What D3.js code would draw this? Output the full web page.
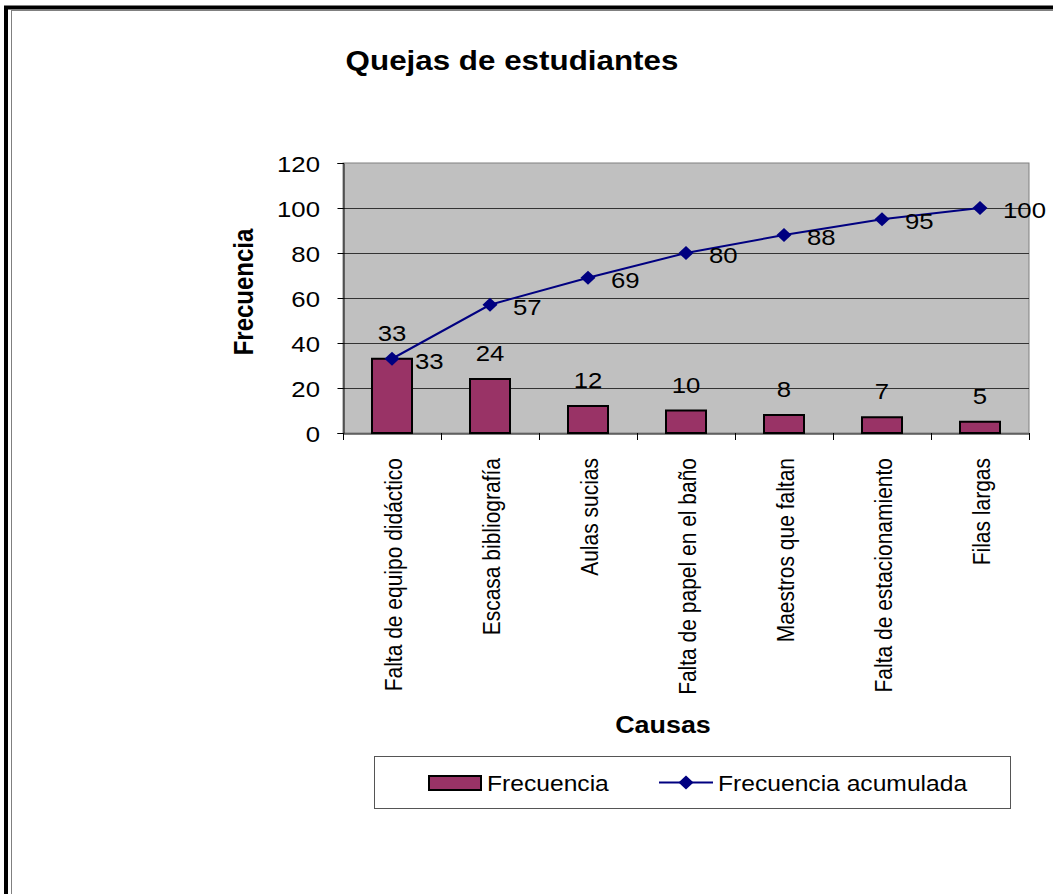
<!DOCTYPE html>
<html>
<head>
<meta charset="utf-8">
<script src="https://cdn.jsdelivr.net/npm/d3@7"></script>
<style>
  html, body { margin: 0; padding: 0; background: #fff; }
  svg { display: block; }
  text { font-family: "Liberation Sans", Arial, sans-serif; fill: #000; }
</style>
</head>
<body>
<svg id="chart" width="1053" height="894"></svg>
<script>
const categories = ["Falta de equipo didáctico", "Escasa bibliografía", "Aulas sucias",
  "Falta de papel en el baño", "Maestros que faltan", "Falta de estacionamiento", "Filas largas"];
const frecuencia = [33, 24, 12, 10, 8, 7, 5];
const acumulada = [33, 57, 69, 80, 88, 95, 100];
const yTicks = [0, 20, 40, 60, 80, 100, 120];
const titleText = "Quejas de estudiantes";
const yTitle = "Frecuencia";
const xTitle = "Causas";
const seriesNames = ["Frecuencia", "Frecuencia acumulada"];

(function () {
const SX = 1.12;
const svg = d3.select("#chart");

// outer frame
svg.append("rect").attr("x", 6).attr("y", 7.5).attr("width", 1200).attr("height", 1000)
  .attr("fill", "none").attr("stroke", "#000").attr("stroke-width", 4);
svg.append("rect").attr("x", 11.5).attr("y", 10.5).attr("width", 1200).attr("height", 1000)
  .attr("fill", "none").attr("stroke", "#808080").attr("stroke-width", 1);

function txt(s, x, y, o = {}) {
  const rot = !!o.rot;
  return svg.append("text")
    .attr("transform", `translate(${x},${y})` + (rot ? " rotate(-90)" : "") + ` scale(${rot ? 1 : SX},${rot ? SX : 1})`)
    .attr("text-anchor", o.anchor || "start")
    .attr("font-size", o.size || 22)
    .attr("font-weight", o.bold ? "bold" : "normal")
    .text(s);
}

const pLeft = 343, pRight = 1029, pTop = 163, pBottom = 433;
const x = d3.scaleBand().domain(categories).range([pLeft, pRight]);
const y = d3.scaleLinear().domain([0, 120]).range([pBottom, pTop]);
const cx = d => x(d) + x.bandwidth() / 2;
const barW = 40;

// plot background
svg.append("rect").attr("x", pLeft).attr("y", pTop).attr("width", pRight - pLeft).attr("height", pBottom - pTop)
  .attr("fill", "#C0C0C0").attr("stroke", "#808080").attr("stroke-width", 1);

// gridlines
svg.append("g").selectAll("line").data(yTicks.filter(t => t > 0 && t < 120)).join("line")
  .attr("x1", pLeft).attr("x2", pRight).attr("y1", d => y(d) + 0.5).attr("y2", d => y(d) + 0.5)
  .attr("stroke", "#333").attr("stroke-width", 1);

// y axis
const yAxis = svg.append("g").attr("transform", `translate(${pLeft + 0.5},0)`)
  .call(d3.axisLeft(y).tickValues(yTicks).tickSize(6).tickFormat(""));
yAxis.select(".domain").attr("stroke", "#000");
yAxis.selectAll(".tick line").attr("stroke", "#000");
yTicks.forEach(t => txt(String(t), 320, y(t) + 9, { anchor: "end", size: 23 }));

// x axis
const xAxis = svg.append("g").attr("transform", `translate(0,${pBottom + 0.5})`)
  .call(d3.axisBottom(x).tickSize(0).tickFormat(""));
xAxis.select(".domain").attr("stroke", "#000");
const bounds = categories.map(c => x(c)).concat([pRight]);
svg.append("g").selectAll("line").data(bounds).join("line")
  .attr("x1", d => d + 0.5).attr("x2", d => d + 0.5).attr("y1", pBottom).attr("y2", pBottom + 7)
  .attr("stroke", "#000").attr("stroke-width", 1);

// bars
svg.append("g").selectAll("rect").data(frecuencia).join("rect")
  .attr("x", (d, i) => cx(categories[i]) - barW / 2)
  .attr("y", d => y(d))
  .attr("width", barW)
  .attr("height", d => pBottom - y(d))
  .attr("fill", "#993366").attr("stroke", "#000").attr("stroke-width", 2);

// bar labels
frecuencia.forEach((v, i) => txt(String(v), cx(categories[i]), y(v) - 18, { anchor: "middle", size: 23 }));

// cumulative line
const line = d3.line().x((d, i) => cx(categories[i])).y(d => y(d));
svg.append("path").datum(acumulada).attr("d", line)
  .attr("fill", "none").attr("stroke", "#000080").attr("stroke-width", 2);
const diamond = "M0,-7L7.5,0L0,7L-7.5,0Z";
svg.append("g").selectAll("path").data(acumulada).join("path")
  .attr("transform", (d, i) => `translate(${cx(categories[i])},${y(d)})`)
  .attr("d", diamond).attr("fill", "#000080");
acumulada.forEach((v, i) => txt(String(v), cx(categories[i]) + 23, y(v) + 10, { size: 23 }));

// category labels
categories.forEach(c => txt(c, cx(c) + 10, 458, { rot: true, anchor: "end", size: 21 }));

// titles
txt(titleText, 512, 70, { anchor: "middle", size: 28, bold: true });
txt(yTitle, 253, 292, { rot: true, anchor: "middle", size: 24, bold: true });
txt(xTitle, 663, 733, { anchor: "middle", size: 24, bold: true });

// legend
svg.append("rect").attr("x", 374.5).attr("y", 756.5).attr("width", 636).attr("height", 52)
  .attr("fill", "#fff").attr("stroke", "#555").attr("stroke-width", 1);
svg.append("rect").attr("x", 429).attr("y", 776).attr("width", 52).attr("height", 14)
  .attr("fill", "#993366").attr("stroke", "#000").attr("stroke-width", 2);
txt(seriesNames[0], 487, 791, { size: 22 });
svg.append("line").attr("x1", 659).attr("x2", 713).attr("y1", 782.5).attr("y2", 782.5)
  .attr("stroke", "#000080").attr("stroke-width", 2);
svg.append("path").attr("transform", "translate(686,782.5)").attr("d", diamond).attr("fill", "#000080");
txt(seriesNames[1], 718, 791, { size: 22 });
})();
</script>
</body>
</html>
